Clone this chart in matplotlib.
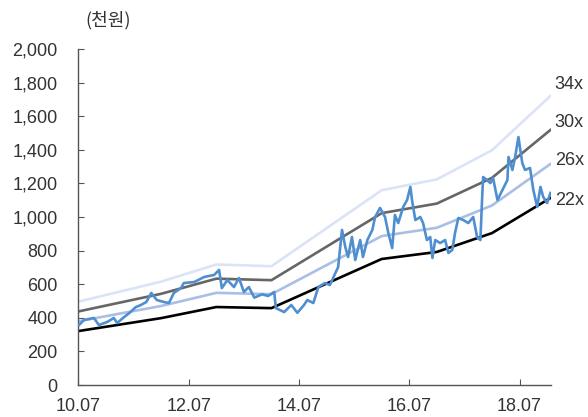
import matplotlib
matplotlib.use("Agg")
import matplotlib.pyplot as plt
import numpy as np

# 주가 (천원), 시점은 연도 소수
price_t = [2010.51, 2010.60, 2010.78, 2010.87, 2011.02, 2011.14, 2011.20, 2011.33, 2011.42, 2011.54,
           2011.63, 2011.73, 2011.82, 2011.92, 2012.05, 2012.14, 2012.23, 2012.36, 2012.41, 2012.60,
           2012.78, 2012.96, 2013.05, 2013.10, 2013.20, 2013.32, 2013.41, 2013.50, 2013.59, 2013.69,
           2013.83, 2013.94, 2014.05, 2014.08, 2014.23, 2014.36, 2014.47, 2014.59, 2014.65, 2014.76,
           2014.85, 2014.97, 2015.06, 2015.16, 2015.21, 2015.28, 2015.34, 2015.39, 2015.46, 2015.52,
           2015.61, 2015.66, 2015.74, 2015.83, 2015.88, 2015.97, 2016.06, 2016.12, 2016.19, 2016.24,
           2016.30, 2016.39, 2016.46, 2016.52, 2016.55, 2016.61, 2016.70, 2016.75, 2016.82, 2016.88,
           2016.92, 2016.97, 2017.06, 2017.15, 2017.21, 2017.28, 2017.33, 2017.39, 2017.48, 2017.57,
           2017.66, 2017.73, 2017.79, 2017.82, 2017.84, 2017.91, 2017.97, 2018.02, 2018.10, 2018.19,
           2018.28, 2018.30, 2018.37, 2018.42, 2018.48, 2018.55, 2018.60, 2018.69, 2018.75, 2018.82,
           2018.88, 2018.93, 2019.00, 2019.06]
price = [357, 387, 399, 357, 375, 399, 369, 405, 428, 464,
         476, 494, 548, 506, 494, 488, 548, 577, 607, 613,
         643, 655, 685, 577, 625, 583, 637, 554, 583, 520,
         540, 530, 554, 458, 434, 476, 430, 476, 506, 488,
         583, 607, 595, 667, 702, 923, 821, 762, 881, 744,
         863, 762, 863, 923, 1000, 1054, 1000, 905, 815, 1012,
         964, 1060, 1101, 1179, 1101, 982, 1000, 964, 863, 881,
         756, 863, 845, 863, 786, 804, 905, 994, 982, 964,
         1000, 881, 863, 1101, 1238, 1220, 1202, 1232, 1101, 1161,
         1220, 1357, 1280, 1357, 1476, 1321, 1280, 1292, 1161, 1060,
         1179, 1119, 1083, 1143]

# EPS 추정 (원 단위 / 1000)
eps_t = [2010.5, 2012.0, 2013.0, 2014.0, 2016.0, 2017.0, 2018.0, 2019.06]
eps = [14.6, 18.1, 21.1, 20.8, 34.1, 36.0, 41.1, 50.6]

multiples = [34, 30, 26, 22]
band_colors = ["#dbe4f6", "#666666", "#a9bfe6", "#000000"]
label_y = [1786, 1560, 1339, 1101]

xticks = [2010.5, 2012.5, 2014.5, 2016.5, 2018.5]
xtick_labels = ["10.07", "12.07", "14.07", "16.07", "18.07"]

plt.rcParams['font.family'] = ['Liberation Sans', 'Noto Sans CJK KR', 'DejaVu Sans']

fig = plt.figure(figsize=(5.88, 4.17), dpi=100)
ax = fig.add_axes([0.1335, 0.0767, 0.937 - 0.1335, 0.8825 - 0.0767])

eps_arr = np.array(eps)
for m, c, ly in zip(multiples, band_colors, label_y):
    ax.plot(eps_t, eps_arr * m, color=c, lw=1.9, zorder=2)
    ax.text(eps_t[-1] + 0.08, ly, f"{m}x", fontsize=13, color="#333333",
            ha="left", va="center", clip_on=False)

ax.plot(price_t, price, color="#4f8fd0", lw=1.9, zorder=3)

ax.set_xlim(2010.5, 2019.07)
ax.set_ylim(0, 2000)
ax.set_yticks(range(0, 2001, 200))
ax.set_yticklabels([f"{v:,}" for v in range(0, 2001, 200)])
ax.set_xticks(xticks)
ax.set_xticklabels(xtick_labels)

for s in ["top", "right"]:
    ax.spines[s].set_visible(False)
for s in ["left", "bottom"]:
    ax.spines[s].set_color("#555555")
    ax.spines[s].set_linewidth(1.0)
ax.tick_params(axis="both", direction="in", length=4, color="#555555",
               labelsize=13, labelcolor="#333333")
ax.tick_params(axis="y", pad=15)
ax.tick_params(axis="x", pad=9)

fig.text(0.184, 0.952, "(천원)", fontsize=13, color="#333333", ha="center", va="center",
         family=['Noto Sans CJK KR', 'DejaVu Sans'])

fig.savefig("out.png", dpi=100)
